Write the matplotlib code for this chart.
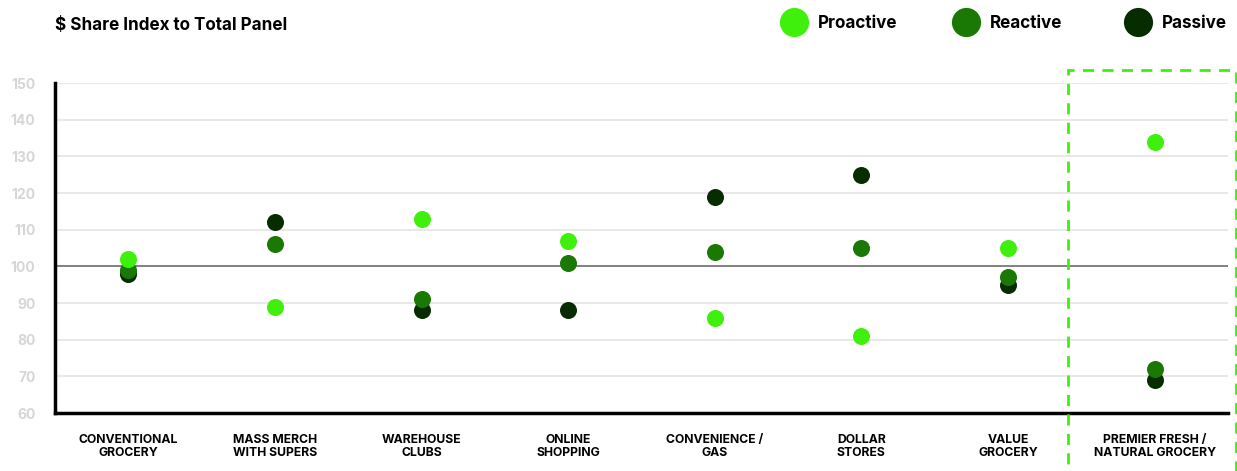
import matplotlib
matplotlib.use("Agg")
import matplotlib.pyplot as plt
from matplotlib.lines import Line2D
from matplotlib.patches import Rectangle

plt.rcParams['font.family'] = ['Inter', 'DejaVu Sans']

categories = ["CONVENTIONAL\nGROCERY", "MASS MERCH\nWITH SUPERS", "WAREHOUSE\nCLUBS",
              "ONLINE\nSHOPPING", "CONVENIENCE /\nGAS", "DOLLAR\nSTORES",
              "VALUE\nGROCERY", "PREMIER FRESH /\nNATURAL GROCERY"]
proactive = [102, 89, 113, 107, 86, 81, 105, 134]
reactive = [99, 106, 91, 101, 104, 105, 97, 72]
passive = [98, 112, 88, 88, 119, 125, 95, 69]
yticks = [60, 70, 80, 90, 100, 110, 120, 130, 140, 150]

c_pro = "#3ff00c"
c_rea = "#1a7804"
c_pas = "#072c01"

fig = plt.figure(figsize=(12.37, 4.71), dpi=100)
ax = fig.add_axes([0.0445, 0.1231, 0.9482, 0.7006])

x = list(range(len(categories)))
for vals, col, z in [(passive, c_pas, 3), (reactive, c_rea, 4), (proactive, c_pro, 5)]:
    ax.scatter(x, vals, s=150, color=col, zorder=z, linewidths=0)

ax.set_xlim(-0.5, 7.5)
ax.set_ylim(60, 150)
ax.set_yticks(yticks)
ax.set_yticklabels([str(t) for t in yticks], color="#d6d6d6", fontsize=10, fontweight="bold")
ax.set_xticks(x)
ax.set_xticklabels(categories, fontsize=8.8, fontweight="bold", linespacing=1.15)
ax.tick_params(axis="y", length=0, pad=14)
ax.tick_params(axis="x", length=0, pad=15)

for t in yticks[1:]:
    if t == 100:
        ax.axhline(t, color="#777777", lw=1.3, zorder=1)
    else:
        ax.axhline(t, color="#e6e6e6", lw=1.3, zorder=1)

for s in ["top", "right"]:
    ax.spines[s].set_visible(False)
for s in ["left", "bottom"]:
    ax.spines[s].set_linewidth(2.5)
    ax.spines[s].set_color("black")

# highlight box around the last category
box = Rectangle((1068 / 1237, -0.05), (1236 - 1068) / 1237, 0.05 + 1 - 70 / 471,
                transform=fig.transFigure, fill=False, edgecolor=c_pro,
                lw=2, linestyle=(0, (4, 3)), clip_on=False)
fig.add_artist(box)

fig.text(55 / 1237, 1 - 25 / 471, "\\$ Share Index to Total Panel", fontsize=12.3,
         fontweight="bold", va="center", ha="left")

# legend
for name, col, px in [("Proactive", c_pro, 794), ("Reactive", c_rea, 966), ("Passive", c_pas, 1138)]:
    fig.add_artist(Line2D([px / 1237], [1 - 22 / 471], marker="o", markersize=21,
                          color=col, markeredgewidth=0, transform=fig.transFigure))
    fig.text((px + 24) / 1237, 1 - 24 / 471, name, fontsize=12.3, fontweight="bold",
             va="center", ha="left")

fig.savefig("out.png", dpi=100)
